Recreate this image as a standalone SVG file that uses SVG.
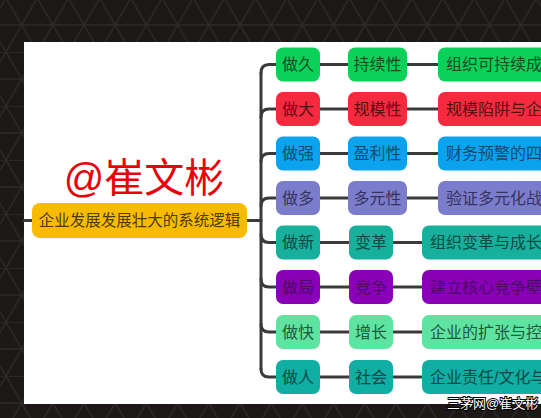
<svg xmlns="http://www.w3.org/2000/svg" width="541" height="418" viewBox="0 0 541 418">
<defs>
<pattern id="tri" patternUnits="userSpaceOnUse" x="6" y="-2" width="31.2" height="54">
<rect width="31.2" height="54" fill="#1b1817"/>
<path d="M0 0H31.2M0 27H31.2M0 0L31.2 54M31.2 0L0 54" stroke="#2c2928" stroke-width="1.4" fill="none"/>
</pattern>
<style>
.t{font-family:"Liberation Sans","Noto Sans CJK SC",sans-serif;font-size:16px;dominant-baseline:central}
.c{text-anchor:middle}
.ln{stroke:#3a3a3a;stroke-width:3;fill:none;stroke-linecap:round}
</style>
</defs>
<rect width="541" height="418" fill="url(#tri)"/>
<rect x="24" y="42" width="517" height="362" fill="#ffffff"/>
<text x="144" y="192" class="c" style="font-family:'Liberation Sans','Noto Sans CJK SC',sans-serif;font-size:40px;fill:#e8000b">@崔文彬</text>
<g id="connectors" class="ln">
<path d="M24 220.5H32M247 220.5H261"/>
<path d="M261 73V369"/>
<path d="M261 73Q261 64.5 269 64.5H276"/>
<path d="M261 117Q261 109 269 109H276"/>
<path d="M261 161.5Q261 153.5 269 153.5H276"/>
<path d="M261 206Q261 198 269 198H276"/>
<path d="M261 234.5Q261 242.5 269 242.5H276"/>
<path d="M261 279Q261 287 269 287H276"/>
<path d="M261 324Q261 332 269 332H276"/>
<path d="M261 369Q261 377 269 377H276"/>
<path d="M320 64.5H348M407 64.5H438"/>
<path d="M320 109H348M407 109H438"/>
<path d="M320 153.5H348M407 153.5H438"/>
<path d="M320 198H348M407 198H438"/>
<path d="M320 242.5H349M393 242.5H422"/>
<path d="M320 287H349M393 287H422"/>
<path d="M320 332H349M393 332H422"/>
<path d="M320 377H349M393 377H422"/>
</g>
<g id="root">
<rect x="32" y="203" width="215" height="35" rx="8" fill="#f9bb00"/>
<text x="139.5" y="220.5" class="t c" style="font-size:15.5px;fill:#4d3b00">企业发展发展壮大的系统逻辑</text>
</g>
<g id="r1" fill="#0bd158">
<rect x="276" y="47.5" width="44" height="34" rx="7"/><rect x="348" y="47.5" width="59" height="34" rx="7"/><rect x="438" y="47.5" width="120" height="34" rx="7"/>
<g fill="#0f4d25"><text x="298" y="64.5" class="t c">做久</text><text x="377.5" y="64.5" class="t c">持续性</text><text x="446" y="64.5" class="t">组织可持续成长</text></g>
</g>
<g id="r2" fill="#f52a3e">
<rect x="276" y="92" width="44" height="34" rx="7"/><rect x="348" y="92" width="59" height="34" rx="7"/><rect x="438" y="92" width="120" height="34" rx="7"/>
<g fill="#5c0d14"><text x="298" y="109" class="t c">做大</text><text x="377.5" y="109" class="t c">规模性</text><text x="446" y="109" class="t">规模陷阱与企业</text></g>
</g>
<g id="r3" fill="#0ba3ee">
<rect x="276" y="136.5" width="44" height="34" rx="7"/><rect x="348" y="136.5" width="59" height="34" rx="7"/><rect x="438" y="136.5" width="120" height="34" rx="7"/>
<g fill="#0d4a6b"><text x="298" y="153.5" class="t c">做强</text><text x="377.5" y="153.5" class="t c">盈利性</text><text x="446" y="153.5" class="t">财务预警的四个</text></g>
</g>
<g id="r4" fill="#7c7ccc">
<rect x="276" y="181" width="44" height="34" rx="7"/><rect x="348" y="181" width="59" height="34" rx="7"/><rect x="438" y="181" width="120" height="34" rx="7"/>
<g fill="#34335c"><text x="298" y="198" class="t c">做多</text><text x="377.5" y="198" class="t c">多元性</text><text x="446" y="198" class="t">验证多元化战略</text></g>
</g>
<g id="r5" fill="#17b09c">
<rect x="276" y="225.5" width="44" height="34" rx="7"/><rect x="349" y="225.5" width="44" height="34" rx="7"/><rect x="422" y="225.5" width="136" height="34" rx="7"/>
<g fill="#0c4a43"><text x="298" y="242.5" class="t c">做新</text><text x="371" y="242.5" class="t c">变革</text><text x="430" y="242.5" class="t">组织变革与成长与</text></g>
</g>
<g id="r6" fill="#8a00b8">
<rect x="276" y="270" width="44" height="34" rx="7"/><rect x="349" y="270" width="44" height="34" rx="7"/><rect x="422" y="270" width="136" height="34" rx="7"/>
<g fill="#4b0a63"><text x="298" y="287" class="t c">做局</text><text x="371" y="287" class="t c">竞争</text><text x="430" y="287" class="t">建立核心竞争壁垒</text></g>
</g>
<g id="r7" fill="#5fe3a1">
<rect x="276" y="315" width="44" height="34" rx="7"/><rect x="349" y="315" width="44" height="34" rx="7"/><rect x="422" y="315" width="136" height="34" rx="7"/>
<g fill="#1e5a3c"><text x="298" y="332" class="t c">做快</text><text x="371" y="332" class="t c">增长</text><text x="430" y="332" class="t">企业的扩张与控制</text></g>
</g>
<g id="r8" fill="#10aea3">
<rect x="276" y="360" width="44" height="34" rx="7"/><rect x="349" y="360" width="44" height="34" rx="7"/><rect x="422" y="360" width="136" height="34" rx="7"/>
<g fill="#0b4a45"><text x="298" y="377" class="t c">做人</text><text x="371" y="377" class="t c">社会</text><text x="430" y="377" class="t">企业责任/文化与</text></g>
</g>
<text x="447" y="403" class="t" style="font-size:13px;fill:#ffffff;stroke:#000000;stroke-width:2;paint-order:stroke">三茅网@崔文彬</text>
</svg>
